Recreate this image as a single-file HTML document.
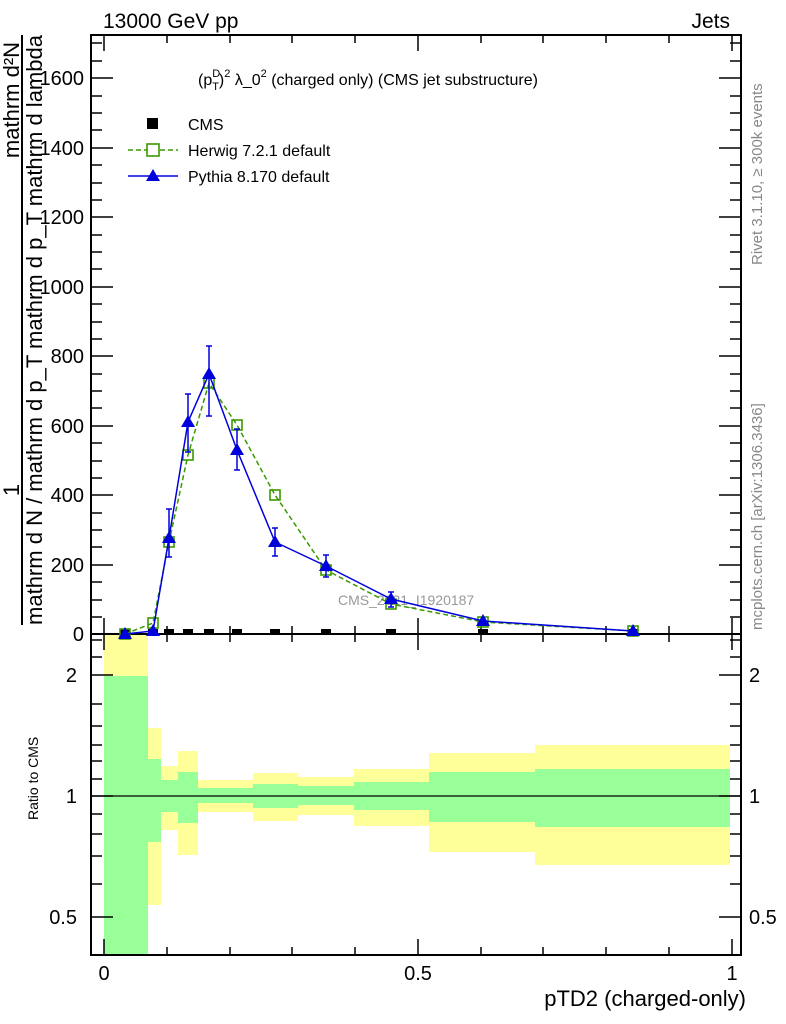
<!DOCTYPE html>
<html><head><meta charset="utf-8"><style>body{margin:0;background:#fff}svg{display:block}text{font-family:"Liberation Sans",sans-serif}</style></head><body>
<svg width="786" height="1024" xmlns="http://www.w3.org/2000/svg">
<!-- ratio bands -->
<g>
<rect x="104" y="634" width="44" height="321" fill="#ffff99"/>
<rect x="104" y="676" width="44" height="279" fill="#99ff99"/>
<rect x="148" y="728" width="13" height="177" fill="#ffff99"/><rect x="148" y="759" width="13" height="83" fill="#99ff99"/>
<rect x="161" y="766" width="17" height="64" fill="#ffff99"/><rect x="161" y="780" width="17" height="32" fill="#99ff99"/>
<rect x="178" y="751" width="20" height="104" fill="#ffff99"/><rect x="178" y="772" width="20" height="51" fill="#99ff99"/>
<rect x="198" y="780" width="55" height="32" fill="#ffff99"/><rect x="198" y="788" width="55" height="15" fill="#99ff99"/>
<rect x="253" y="773" width="45" height="48" fill="#ffff99"/><rect x="253" y="784" width="45" height="24" fill="#99ff99"/>
<rect x="298" y="777" width="56" height="38" fill="#ffff99"/><rect x="298" y="786" width="56" height="19" fill="#99ff99"/>
<rect x="354" y="769" width="75" height="57" fill="#ffff99"/><rect x="354" y="782" width="75" height="28" fill="#99ff99"/>
<rect x="429" y="753" width="106" height="99" fill="#ffff99"/><rect x="429" y="772" width="106" height="50" fill="#99ff99"/>
<rect x="535" y="745" width="195" height="120" fill="#ffff99"/><rect x="535" y="769" width="195" height="58" fill="#99ff99"/>
</g>
<line x1="91" y1="796" x2="741" y2="796" stroke="#000" stroke-width="1.3"/>
<!-- frames -->
<rect x="91" y="35" width="650" height="599" fill="none" stroke="#000" stroke-width="2"/>
<rect x="91" y="634" width="650" height="321" fill="none" stroke="#000" stroke-width="2"/>
<g stroke="#000" stroke-width="1.5">
<path d="M91 634h22M91 565h22M91 495h22M91 426h22M91 356h22M91 287h22M91 217h22M91 148h22M91 78h22"/>
<path d="M741 634h-22M741 565h-22M741 495h-22M741 426h-22M741 356h-22M741 287h-22M741 217h-22M741 148h-22M741 78h-22"/>
<path d="M91 617h11M91 600h11M91 582h11M91 547h11M91 530h11M91 513h11M91 478h11M91 461h11M91 443h11M91 408h11M91 391h11M91 374h11M91 339h11M91 322h11M91 304h11M91 269h11M91 252h11M91 235h11M91 200h11M91 183h11M91 165h11M91 130h11M91 113h11M91 96h11M91 61h11M91 43h11"/>
<path d="M741 617h-11M741 600h-11M741 582h-11M741 547h-11M741 530h-11M741 513h-11M741 478h-11M741 461h-11M741 443h-11M741 408h-11M741 391h-11M741 374h-11M741 339h-11M741 322h-11M741 304h-11M741 269h-11M741 252h-11M741 235h-11M741 200h-11M741 183h-11M741 165h-11M741 130h-11M741 113h-11M741 96h-11M741 61h-11M741 43h-11"/>
<path d="M104 634v-16M418 634v-16M732 634v-16M104 35v16M418 35v16M732 35v16"/>
<path d="M167 634v-8M230 634v-8M292 634v-8M355 634v-8M481 634v-8M543 634v-8M606 634v-8M669 634v-8M167 35v8M230 35v8M292 35v8M355 35v8M481 35v8M543 35v8M606 35v8M669 35v8"/>
<path d="M104 955v-16M418 955v-16M732 955v-16M104 634v16M418 634v16M732 634v16"/>
<path d="M167 955v-8M230 955v-8M292 955v-8M355 955v-8M481 955v-8M543 955v-8M606 955v-8M669 955v-8M167 634v8M230 634v8M292 634v8M355 634v8M481 634v8M543 634v8M606 634v8M669 634v8"/>
<path d="M91 675h22M91 796h22M91 917h22M741 675h-22M741 796h-22M741 917h-22"/>
<path d="M91 640h11M91 657h11M91 704h11M91 726h11M91 745h11M91 761h11M91 779h11M91 814h11M91 834h11M91 856h11M91 884h11M741 640h-11M741 657h-11M741 704h-11M741 726h-11M741 745h-11M741 761h-11M741 779h-11M741 814h-11M741 834h-11M741 856h-11M741 884h-11"/>
</g>
<g font-size="20" text-anchor="end">
<text x="84" y="641">0</text><text x="84" y="572">200</text><text x="84" y="502">400</text><text x="84" y="433">600</text><text x="84" y="363">800</text><text x="84" y="294">1000</text><text x="84" y="224">1200</text><text x="84" y="155">1400</text><text x="84" y="85">1600</text>
<text x="77" y="682">2</text><text x="77" y="803">1</text><text x="77" y="924">0.5</text>
</g>
<g font-size="20" text-anchor="start"><text x="749" y="682">2</text><text x="749" y="803">1</text><text x="749" y="924">0.5</text></g>
<g font-size="20" text-anchor="middle"><text x="104" y="980">0</text><text x="418" y="980">0.5</text><text x="732" y="980">1</text></g>
<text x="746" y="1006" font-size="22" text-anchor="end">pTD2 (charged-only)</text>
<text x="103" y="28" font-size="21">13000 GeV pp</text>
<text x="730" y="28" font-size="21" text-anchor="end">Jets</text>
<text x="198" y="85" font-size="16">(p<tspan font-size="11" dy="-8">D</tspan><tspan font-size="11" dy="13" dx="-8">T</tspan><tspan dy="-5">)</tspan><tspan font-size="11" dy="-8">2</tspan><tspan dy="8"> λ_0</tspan><tspan font-size="11" dy="-8">2</tspan><tspan dy="8"> (charged only) (CMS jet substructure)</tspan></text>
<text x="38" y="820" font-size="14" transform="rotate(-90 38 820)">Ratio to CMS</text>
<!-- y axis label -->
<line x1="22" y1="625" x2="22" y2="35" stroke="#000" stroke-width="2"/>
<text transform="translate(19 490) rotate(-90)" font-size="22" text-anchor="middle">1</text>
<text transform="translate(19 100) rotate(-90)" font-size="22" text-anchor="middle">mathrm d²N</text>
<text transform="translate(42 625) rotate(-90)" font-size="22" textLength="590" lengthAdjust="spacingAndGlyphs">mathrm d N / mathrm d p_T mathrm d p_T mathrm d lambda</text>
<text transform="translate(762 265) rotate(-90)" font-size="15" fill="#888">Rivet 3.1.10, ≥ 300k events</text>
<text transform="translate(762 630) rotate(-90)" font-size="15" fill="#888">mcplots.cern.ch [arXiv:1306.3436]</text>
<text x="338" y="605" font-size="14" fill="#999">CMS_2021_I1920187</text>
<rect x="147" y="118" width="11" height="11" fill="#000"/>
<text x="188" y="130" font-size="16">CMS</text>
<line x1="128" y1="150" x2="178" y2="150" stroke="#3a9a00" stroke-width="1.5" stroke-dasharray="5,3"/>
<rect x="147" y="144" width="12" height="12" fill="#fff" stroke="#3a9a00" stroke-width="1.6"/>
<text x="188" y="156" font-size="16">Herwig 7.2.1 default</text>
<line x1="128" y1="176" x2="178" y2="176" stroke="#0000dd" stroke-width="1.5"/>
<path d="M153 169l7 12h-14z" fill="#0000dd"/>
<text x="188" y="182" font-size="16">Pythia 8.170 default</text>
<g fill="#000">
<rect x="120" y="629" width="10" height="6"/><rect x="148" y="629" width="10" height="6"/><rect x="164" y="629" width="10" height="6"/><rect x="183" y="629" width="10" height="6"/><rect x="204" y="629" width="10" height="6"/><rect x="232" y="629" width="10" height="6"/><rect x="270" y="629" width="10" height="6"/><rect x="321" y="629" width="10" height="6"/><rect x="386" y="629" width="10" height="6"/><rect x="478" y="629" width="10" height="6"/><rect x="628" y="629" width="10" height="6"/>
</g>
<polyline points="125,634 153,623 169,542 188,455 209,383 237,425 275,495 326,570 391,604 483,622 633,631" fill="none" stroke="#3a9a00" stroke-width="1.5" stroke-dasharray="5,3"/>
<g fill="none" stroke="#3a9a00" stroke-width="1.6">
<rect x="120" y="629" width="10" height="10"/><rect x="148" y="618" width="10" height="10"/><rect x="164" y="537" width="10" height="10"/><rect x="183" y="450" width="10" height="10"/><rect x="204" y="378" width="10" height="10"/><rect x="232" y="420" width="10" height="10"/><rect x="270" y="490" width="10" height="10"/><rect x="321" y="565" width="10" height="10"/><rect x="386" y="599" width="10" height="10"/><rect x="478" y="617" width="10" height="10"/><rect x="628" y="626" width="10" height="10"/>
</g>
<g stroke="#0000dd" stroke-width="1.5">
<path d="M169 509v48M166 509h6M166 557h6M188 394v58M185 394h6M185 452h6M209 346v70M206 346h6M206 416h6M237 429v41M234 429h6M234 470h6M275 528v28M272 528h6M272 556h6M326 555v22M323 555h6M323 577h6M391 592v15M388 592h6M388 607h6"/>
</g>
<polyline points="125,634 153,631 169,538 188,422 209,374 237,450 275,542 326,566 391,599 483,621 633,631" fill="none" stroke="#0000dd" stroke-width="1.5"/>
<g fill="#0000dd">
<path d="M125 627l7 12h-14z"/><path d="M153 624l7 12h-14z"/><path d="M169 531l7 12h-14z"/><path d="M188 415l7 12h-14z"/><path d="M209 367l7 12h-14z"/><path d="M237 443l7 12h-14z"/><path d="M275 535l7 12h-14z"/><path d="M326 559l7 12h-14z"/><path d="M391 592l7 12h-14z"/><path d="M483 614l7 12h-14z"/><path d="M633 624l7 12h-14z"/>
</g>
</svg>
</body></html>
